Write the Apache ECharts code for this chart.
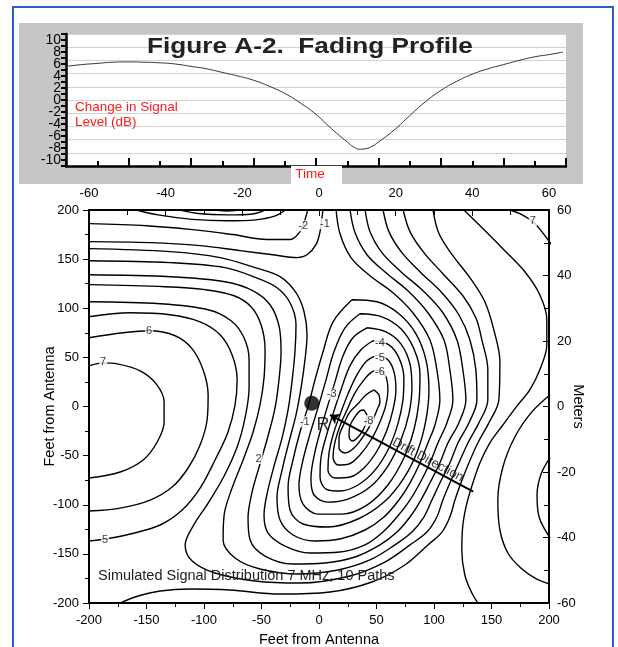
<!DOCTYPE html>
<html><head><meta charset="utf-8">
<script src="https://cdn.jsdelivr.net/npm/echarts@6/dist/echarts.min.js"></script>
<style>html,body{margin:0;padding:0;background:#fff}#c{width:618px;height:647px}</style>
</head><body><div id="c"></div>
<script>
// ---- Top panel: fading profile ----
const fadeTime = [0,0.5,1,1.5,2,2.5,3,3.5,4,4.5,5,5.5,6,6.5,7,7.5,8,8.5,9,9.2,9.4,9.6,9.8,10,10.5,11,11.5,12,12.5,13,13.5,14,14.5,15,15.5,15.9];
const fadeDb   = [5.6,5.9,6.1,6.3,6.35,6.3,6.2,6.0,5.6,5.2,4.6,4.0,3.3,2.3,1.1,-0.5,-2.4,-4.8,-7.0,-7.8,-8.2,-8.1,-7.7,-7.0,-5.0,-2.6,-0.3,1.6,3.1,4.3,5.2,5.9,6.6,7.2,7.6,8.0];
const dbTickLabels = [-10,-8,-6,-4,-2,0,2,4,6,8,10];

// ---- Bottom panel: contour lines, [feet east, feet north] ----
const c7  = [[-200,41.4],[-187.7,44.4],[-175.5,43.4],[-155.5,36.3],[-141.6,23],[-134.7,4.7],[-134.7,-15.7],[-140.7,-36.1],[-152.9,-54.4],[-172.9,-66.7],[-200,-72.8]];
const c6  = [[-200,70],[-170.3,75],[-147.7,77.1],[-125.1,72],[-110.3,58.7],[-100.8,37.3],[-96.4,11.8],[-97.3,-13.7],[-103.4,-39.1],[-113.8,-62.6],[-127.7,-82],[-146.8,-95.2],[-172.9,-103.4],[-200,-106.4]];
const c5  = [[-200,91.3],[-164.2,95.4],[-129.5,93.4],[-103.4,86.2],[-86,73],[-75.6,52.6],[-71.2,27.1],[-73,1.6],[-79.1,-25.9],[-90.4,-54.4],[-103.4,-83],[-119,-105.4],[-138.1,-120.6],[-164.2,-129.8],[-185.9,-134.9],[-200,-136.9]];
const cTopM2 = [[-200,186.1],[-150,184],[-110,180],[-75,175],[-45,170],[-25,170],[-16.5,178],[-12.2,190.2],[-9.6,201]];
const cTopM1 = [[-200,167.8],[-146.8,166.8],[-103.4,163.7],[-68.6,158.6],[-40,154.5],[-19.1,151.5],[-10.4,154.5],[-2.6,164.7],[0.9,178],[2.6,192.2],[3.5,201]];
const cTopM3 = [[-162,201],[-140,195],[-110,190.5],[-80,189],[-55,190],[-38,194],[-28,201]];
const cTopM4 = [[-125,201],[-105,196.5],[-80,195],[-58,196],[-45,201]];
const cTopM5 = [[-95,201],[-80,199],[-65,201]];
const cU0 = [[14.8,201],[18.2,176],[27.8,151.5],[44.3,133.1],[64.3,115.8],[81.6,95.4],[96.4,67.9],[102.5,37.3],[105.1,6.7],[100.8,-18.8],[94.7,-37.1],[87.8,-57.5],[79.1,-77.9],[69.5,-95.2],[56.5,-112.5],[40,-125.7],[18.2,-134.9],[-3.5,-136.9],[-22.6,-130.8],[-33.9,-115.6],[-36.5,-92.2],[-32.1,-64.8],[-26.1,-36.1],[-20,-8.6],[-15.6,19],[-12.2,47.5],[-10.4,73],[-13,96.4],[-20,115.8],[-33.9,132.1],[-55.6,141.3],[-86,151.5],[-129.5,157.6],[-200,160.7]];
const cU1 = [[26.9,201],[31.3,177],[41.7,154.5],[58.2,136.2],[77.3,117.8],[94.7,95.4],[108.6,67.9],[113.8,37.3],[116.4,6.7],[111.2,-16.7],[103.4,-37.1],[96.4,-57.5],[87.8,-77.9],[79.1,-95.2],[67.8,-112.5],[55.6,-127.8],[40,-140.9],[18.2,-148.1],[-7.8,-149.1],[-29.5,-142],[-44.3,-128.8],[-47.8,-110.5],[-45.2,-89.1],[-39.1,-60.6],[-32.1,-32],[-26.9,-3.5],[-23.5,25.1],[-20.9,55.7],[-20,83.2],[-25.2,105.6],[-36.5,120.9],[-54.7,131.1],[-81.7,141.3],[-129.5,146.4],[-200,148.4]];
const cU2 = [[40,201],[44.3,178],[54.7,156.6],[71.2,137.2],[90.4,117.8],[107.7,95.4],[119.9,67.9],[125.1,37.3],[127.7,6.7],[121.6,-16.7],[112.1,-37.1],[105.1,-57.5],[96.4,-77.9],[88.6,-95.2],[79.1,-112.5],[67.8,-127.8],[53,-140.9],[31.3,-153.2],[5.2,-159.3],[-22.6,-160.3],[-46.9,-152.2],[-59.9,-135.9],[-61.7,-113.5],[-58.2,-87.1],[-51.3,-58.5],[-44.3,-30],[-38.2,-1.4],[-34.8,27.1],[-33,55.7],[-34.8,82.2],[-42.6,103.6],[-57.3,117.8],[-81.7,127],[-129.5,132.1],[-200,134.1]];
const cU3 = [[55.6,201],[60.8,178],[72.1,156.6],[88.6,136.2],[106.9,115.8],[121.6,93.4],[131.2,67.9],[136.4,37.3],[137.3,6.7],[130.3,-16.7],[120.8,-37.1],[113.8,-57.5],[105.1,-77.9],[98.2,-95.2],[91.2,-112.5],[80.8,-127.8],[66,-140.9],[44.3,-156.2],[16.5,-166.4],[-18.2,-170.5],[-51.3,-165.4],[-73,-154.2],[-83.4,-135.9],[-82.5,-110.5],[-75.6,-83],[-66,-54.4],[-57.3,-25.9],[-51.3,1.6],[-47.8,29.2],[-46.9,57.7],[-50.4,83.2],[-59.1,101.5],[-73.8,112.7],[-99,118.9],[-133.8,121.9],[-200,124]];
const cU4 = [[73,201],[79.1,178],[91.2,156.6],[107.7,135.2],[125.1,112.7],[136.4,90.3],[141.6,67.9],[146.8,37.3],[146.8,6.7],[139,-16.7],[129.5,-37.1],[121.6,-57.5],[113.8,-77.9],[107.7,-95.2],[102.5,-112.5],[93.8,-127.8],[79.1,-140.9],[57.3,-158.3],[26.9,-172.5],[-16.5,-179.7],[-55.6,-177.6],[-90.4,-169.5],[-110.3,-157.3],[-116.4,-140.9],[-109.5,-121.7],[-96.4,-98.3],[-82.5,-70.7],[-71.2,-41.2],[-64.3,-11.6],[-60.8,19],[-60.8,47.5],[-65.2,70],[-76.5,87.3],[-96.4,98.5],[-138.1,104.6],[-200,106.6]];
const cB5 = [[99,201],[104.3,176],[116.4,153.5],[131.2,131.1],[144.2,106.6],[152,78.1],[157.3,45.5],[156.4,6.7],[147.7,-16.7],[138.1,-37.1],[130.3,-57.5],[123.4,-77.9],[118.2,-95.2],[113.8,-112.5],[106.9,-127.8],[94.7,-140.9],[74.7,-161.3],[46,-178.6],[9.6,-188.8],[-33.9,-190.9],[-77.3,-186.8],[-112.1,-185.8],[-138.1,-187.8],[-157.3,-192.9],[-174.6,-201]];
const cR6 = [[125.1,201],[141.6,182.1],[160.7,159.6],[179,137.2],[192,113.8],[198.1,88.3],[198.1,62.8],[192,37.3],[183.3,16.9],[172.9,1.6],[159.9,-18.8],[148.6,-37.1],[139.9,-57.5],[133.8,-77.9],[128.6,-98.3],[125.1,-120.6],[124.2,-146.1],[126.8,-171.5],[132.9,-189.8],[139.9,-203]];
const cR7a = [[163.3,201],[176.4,195.3],[187.9,186.1],[199,169.8],[202,165]];
const cR7b = [[201,12],[185.1,-5.5],[170.3,-31],[159.9,-61.6],[155.5,-95.2],[157.3,-125.7],[164.2,-149.1],[175.5,-164.4],[187.9,-174.6],[201,-181]];
const cR8 = [[201,-52],[193.1,-68.7],[189.6,-90.1],[191.4,-112.5],[201,-134]];
const ringM1 = [[28.7,108.7],[50.4,106.6],[69.5,94.4],[84.3,74],[93,47.5],[95.6,16.9],[93,-13.7],[86,-44.2],[73.8,-72.8],[56.5,-97.3],[33.9,-114.5],[7.8,-122.7],[-13.9,-119.6],[-25.2,-105.4],[-26.9,-82],[-22.6,-54.4],[-16.5,-25.9],[-9.6,-0.4],[-3.5,27.1],[3.5,55.7],[12.2,86.2],[28.7,108.7]];
const ringM2 = [[35.6,94.4],[54.7,91.3],[71.2,79.1],[82.5,58.7],[87.8,33.2],[86.9,4.7],[82.5,-23.9],[73.8,-52.4],[59.9,-79.9],[41.7,-100.3],[20,-109.5],[-0.9,-109.5],[-13.9,-99.3],[-17.4,-79.9],[-13.9,-54.4],[-7.8,-27.9],[-0.9,-1.4],[6.1,27.1],[13,55.7],[22.6,80.1],[35.6,94.4]];
const ringM3 = [[41.7,80.1],[58.2,76],[71.2,63.8],[79.1,43.4],[80.8,19],[78.2,-7.5],[71.2,-34.1],[59.9,-60.6],[44.3,-82],[25.2,-94.2],[7.8,-97.3],[-4.3,-90.1],[-7,-72.8],[-4.3,-50.4],[0.9,-25.9],[7,-1.4],[13.9,25.1],[20.9,51.6],[29.5,70],[41.7,80.1]];
const ringM4 = [[46.9,66.9],[60.8,62.8],[69.5,49.5],[73.8,29.2],[73,6.7],[68.6,-17.7],[60.8,-42.2],[48.7,-64.8],[33.9,-79.9],[18.2,-86],[6.1,-84],[0.9,-71.8],[1.7,-52.4],[6.1,-31],[12.2,-7.5],[19.1,16.9],[26.9,41.4],[36.5,57.7],[46.9,66.9]];
const ringM5 = [[51.3,52.6],[59.9,47.5],[65.2,35.3],[66.9,16.9],[64.3,-3.5],[59.1,-23.9],[50.4,-45.3],[39.1,-62.6],[26.9,-71.8],[13.9,-72.8],[7.8,-64.8],[8.7,-47.3],[12.2,-29],[18.2,-8.6],[25.2,12.8],[33,32.2],[41.7,46.5],[51.3,52.6]];
const ringM6 = [[53,37.3],[58.2,30.2],[59.9,16.9],[58.2,1.6],[53,-15.7],[45.2,-34.1],[35.6,-49.3],[26.1,-58.5],[16.5,-59.5],[12.2,-51.4],[13.9,-36.1],[18.2,-19.8],[24.3,-3.5],[31.3,13.9],[39.1,27.1],[46,35.3],[53,37.3]];
const ringM7 = [[47.8,16.9],[52.1,11.8],[53,4.7],[50.4,-3.5],[45.2,-17.7],[38.2,-31],[30.4,-42.2],[22.6,-47.3],[17.4,-42.2],[17.4,-32],[21.7,-17.7],[26.9,-5.5],[33.9,2.7],[40.8,11.8],[47.8,16.9]];
const ringM8 = [[39.1,-3.5],[41.7,-9.6],[40,-19.8],[34.8,-30],[28.7,-35.1],[26.1,-30],[26.9,-19.8],[31.3,-10.6],[35.6,-4.5],[39.1,-3.5]];
const openContours = [c7,c6,c5,cTopM2,cTopM1,cTopM3,cTopM4,cTopM5,cU0,cU1,cU2,cU3,cU4,cB5,cR6,cR7a,cR7b,cR8];
const closedContours = [ringM1,ringM2,ringM3,ringM4,ringM5,ringM6,ringM7,ringM8];

const labelX = [-187.7,-147.7,-186,-52.5,-12.5,11,53,53,53,43,-13.7,5.2,186];
const labelY = [45,77,-135.5,-53,-15.5,12.6,64.5,49.2,35.5,-14.4,184,186,189];
const labelText = ['7','6','5','2','-1','-3','-4','-5','-6','-8','-2','-1','7'];
const receiver = [-6.3,3.4];
const receiverLabel = [3.5,-18.8];
const driftFrom = [134.1,-86.7];
const driftTo = [9.6,-8.6];
const driftTextAt = [94.7,-54.4];

const chart = echarts.init(document.getElementById('c'), null, {renderer:'canvas'});
const FONT = 'Liberation Sans';
const axisBlack = {onZero:false, lineStyle:{color:'#000',width:2}};
const series = [];
series.push({type:'line', xAxisIndex:0, yAxisIndex:0, data: fadeTime.map((t,i)=>[t,fadeDb[i]]), smooth:true, symbol:'none', lineStyle:{color:'#333',width:1}, z:5});
openContours.concat(closedContours).forEach(c=>series.push({type:'line', xAxisIndex:1, yAxisIndex:1, data:c, smooth:0.35, symbol:'none', lineStyle:{color:'#000',width:1.4}, z:3, silent:true}));
series.push({type:'scatter', xAxisIndex:1, yAxisIndex:1, symbolSize:0,
  data: labelX.map((x,i)=>[x,labelY[i],labelText[i]]),
  label:{show:true, position:'inside', formatter:p=>p.data[2], color:'#000', fontSize:11, fontFamily:FONT, backgroundColor:'#fff', padding:[0,1]}, z:6});
series.push({type:'scatter', xAxisIndex:1, yAxisIndex:1, symbolSize:15, itemStyle:{color:'#000'}, data:[receiver], z:7});
series.push({type:'scatter', xAxisIndex:1, yAxisIndex:1, symbolSize:0, data:[receiverLabel],
  label:{show:true, position:'inside', formatter:'R', fontSize:18, fontFamily:FONT, color:'#000'}, z:7});
series.push({type:'lines', coordinateSystem:'cartesian2d', xAxisIndex:1, yAxisIndex:1, symbol:['none','arrow'], symbolSize:9,
  lineStyle:{color:'#000', width:2, opacity:1}, data:[{coords:[driftFrom, driftTo]}], z:7});
series.push({type:'scatter', xAxisIndex:1, yAxisIndex:1, symbolSize:0, data:[driftTextAt],
  label:{show:true, position:'inside', formatter:'Drift Direction', rotate:-28.3, fontSize:13, fontFamily:FONT, color:'#000'}, z:7});

const option = {
  animation:false,
  backgroundColor:'#fff',
  graphic:{elements:[
    {type:'rect', shape:{x:13,y:7,width:600,height:660}, style:{fill:'none', stroke:'#2c5fbf', lineWidth:2}, z:-10},
    {type:'rect', shape:{x:19,y:23,width:564,height:161}, style:{fill:'#c6c6c6'}, z:-9},
    {type:'rect', shape:{x:291,y:166,width:51,height:18}, style:{fill:'#fff'}, z:10},
    {type:'text', x:310, y:174, style:{text:'Time', fill:'#ff1a1a', font:'13.5px "Liberation Sans"', align:'center', verticalAlign:'middle'}, z:11},
    {type:'text', x:310, y:47, scaleX:1.19, style:{text:'Figure A-2.  Fading Profile', fill:'#222', font:'bold 22px "Liberation Sans"', align:'center', verticalAlign:'middle'}, z:11},
    {type:'text', x:75, y:107, style:{text:'Change in Signal', fill:'#ff1a1a', font:'13.5px "Liberation Sans"', verticalAlign:'middle'}, z:11},
    {type:'text', x:75, y:122, style:{text:'Level (dB)', fill:'#ff1a1a', font:'13.5px "Liberation Sans"', verticalAlign:'middle'}, z:11},
    {type:'text', x:98, y:576, style:{text:'Simulated Signal Distribution 7 MHz, 10 Paths', fill:'#222', font:'14.5px "Liberation Sans"', verticalAlign:'middle'}, z:11}
  ]},
  grid:[
    {left:66, right:52, top:34, height:132, show:true, backgroundColor:'#fff', borderWidth:0, outerBoundsMode:'none', containLabel:false},
    {left:89, right:69, top:210, bottom:44, show:true, backgroundColor:'#fff', borderWidth:0, outerBoundsMode:'none', containLabel:false}
  ],
  xAxis:[
    {gridIndex:0, type:'value', min:0, max:16, interval:2, axisLine:{onZero:false,lineStyle:{color:'#000',width:2.5}}, axisTick:{inside:true,length:8,lineStyle:{width:2,color:'#000'}}, minorTick:{show:true,splitNumber:2,length:5,lineStyle:{width:2,color:'#000'}}, axisLabel:{show:false}, splitLine:{show:false}},
    {gridIndex:1, type:'value', position:'bottom', min:-200, max:200, interval:50, name:'Feet from Antenna', nameLocation:'middle', nameGap:29, nameMoveOverlap:false, nameTextStyle:{fontSize:14.5, color:'#000', fontFamily:FONT},
      axisLine:axisBlack, axisTick:{length:6,lineStyle:{color:'#000'}}, minorTick:{show:true,splitNumber:2,length:4,lineStyle:{color:'#000'}}, axisLabel:{margin:11, fontSize:13, color:'#000', fontFamily:FONT}, splitLine:{show:false}},
    {gridIndex:1, type:'value', position:'top', min:-60, max:60, interval:20,
      axisLine:axisBlack, axisTick:{inside:true,length:6,lineStyle:{color:'#000'}}, minorTick:{show:true,splitNumber:2,length:5,lineStyle:{color:'#000'}}, axisLabel:{margin:10, fontSize:13, color:'#000', fontFamily:FONT}, splitLine:{show:false}}
  ],
  yAxis:[
    {gridIndex:0, type:'value', min:-11, max:11, interval:1, axisLine:{show:true,onZero:false,lineStyle:{color:'#000',width:2.5}}, axisTick:{length:5,lineStyle:{width:2,color:'#000'}},
      axisLabel:{margin:5, fontSize:14, color:'#000', fontFamily:FONT, formatter:v=>dbTickLabels.indexOf(v)>=0?String(v):''}, splitLine:{show:false}},
    {gridIndex:1, type:'value', position:'left', min:-200, max:200, interval:50, name:'Feet from Antenna', nameLocation:'middle', nameGap:32, nameMoveOverlap:false, nameTextStyle:{fontSize:14.5, color:'#000', fontFamily:FONT},
      axisLine:axisBlack, axisTick:{length:6,lineStyle:{color:'#000'}}, minorTick:{show:true,splitNumber:2,length:4,lineStyle:{color:'#000'}}, axisLabel:{margin:10, fontSize:13, color:'#000', fontFamily:FONT}, splitLine:{show:false}},
    {gridIndex:1, type:'value', position:'right', min:-60, max:60, interval:20, name:'Meters', nameLocation:'middle', nameRotate:-90, nameGap:21, nameMoveOverlap:false, nameTextStyle:{fontSize:14.5, color:'#000', fontFamily:FONT},
      axisLine:axisBlack, axisTick:{inside:true,length:6,lineStyle:{color:'#000'}}, minorTick:{show:true,splitNumber:2,length:5,lineStyle:{color:'#000'}}, axisLabel:{margin:8, fontSize:13, color:'#000', fontFamily:FONT}, splitLine:{show:false}},
    {gridIndex:0, type:'value', min:0, max:10, interval:1, axisLine:{show:false}, axisTick:{show:false}, axisLabel:{show:false}, splitLine:{show:true,lineStyle:{color:'#d2d2d2',width:1}}}
  ],
  series: series
};
chart.setOption(option);
</script></body></html>
